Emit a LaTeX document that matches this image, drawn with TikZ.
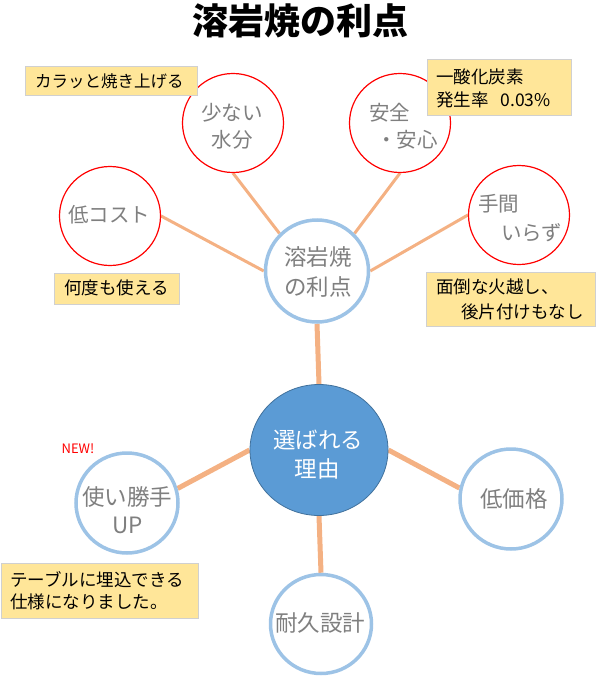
\documentclass[tikz,border=0pt]{standalone}
\usepackage{fontspec}
\setmainfont{Noto Sans CJK JP}
\usetikzlibrary{shapes.geometric}
\pgfdeclarelayer{bg}
\pgfsetlayers{bg,main}
\definecolor{cblue}{HTML}{9DC3E6}
\definecolor{cfill}{HTML}{5B9BD5}
\definecolor{cdark}{HTML}{41719C}
\definecolor{corange}{HTML}{F4B183}
\definecolor{cyellow}{HTML}{FFE699}
\definecolor{cbord}{HTML}{D0D0D0}
\definecolor{cgtext}{HTML}{7F7F7F}
\begin{document}
\begin{tikzpicture}[x=1pt,y=-1pt,
 redc/.style={ellipse,draw=red,line width=1.2pt,fill=white,minimum width=101pt,minimum height=99pt,inner sep=0pt},
 bluec/.style={ellipse,draw=cblue,line width=3.5pt,fill=white,minimum width=102pt,minimum height=100pt,inner sep=0pt},
 mainc/.style={ellipse,draw=cdark,fill=cfill,line width=0.8pt,minimum width=138pt,minimum height=131pt,inner sep=0pt},
 lk/.style={draw=corange,line width=3pt},
 lkb/.style={draw=corange,line width=5pt},
 note/.style={draw=cbord,fill=cyellow,line width=0.8pt,inner sep=0pt,anchor=north west},
 gt/.style={text=cgtext,font=\fontsize{20.5}{24}\selectfont,inner sep=0pt},
 gtb/.style={text=cgtext,font=\fontsize{22.5}{26}\selectfont,inner sep=0pt},
 nt/.style={font=\fontsize{17.5}{20}\selectfont,inner sep=0pt,anchor=west}]
\useasboundingbox (0,0) rectangle (598,677);

% title
\node[font=\fontsize{36}{42}\selectfont\bfseries,inner sep=0pt] (title) at (300,21) {溶岩焼の利点};

% circles
\node[redc] (sukunai) at (233,123) {};
\node[redc] (anzen) at (400,123) {};
\node[redc] (cost) at (110,216) {};
\node[redc] (tema) at (519,215) {};
\node[bluec,minimum width=103pt,minimum height=102pt] (cen) at (317,271) {};
\node[mainc] (riyu) at (319,450) {};
\node[bluec] (tsukai) at (127,503) {};
\node[bluec] (kakaku) at (511,499) {};
\node[bluec,minimum width=101pt,minimum height=99pt] (taikyu) at (321,624) {};

% connectors (behind circles)
\begin{pgfonlayer}{bg}
\path[lk] (sukunai.south) -- (cen.135);
\path[lk] (anzen.south) -- (cen.45);
\path[lk] (cost.east) -- (cen.west);
\path[lk] (tema.west) -- (cen.east);
\path[lkb] (cen.south) -- (riyu.north);
\path[lkb] (riyu.west) -- (tsukai.16);
\path[lkb] (riyu.east) -- (kakaku.168);
\path[lkb] (riyu.south) -- (taikyu.north);
\end{pgfonlayer}

% circle texts
\node[gt] (t1a) at (232,113) {少ない};
\node[gt] (t1b) at (232,140) {水分};
\node[gt,anchor=west] (t2a) at (369,113) {安全};
\node[gt,anchor=west] (t2b) at (376,140) {・安心};
\node[gt,anchor=west] (t3a) at (478,204) {手間};
\node[gt,anchor=west] (t3b) at (501,233) {いらず};
\node[gt] (t4) at (109,215) {低コスト};
\node[gtb] (t5a) at (318,257) {溶岩焼};
\node[gtb] (t5b) at (318,287) {の利点};
\node[gtb,text=white] (t6a) at (318,440) {選ばれる};
\node[gtb,text=white] (t6b) at (317,469) {理由};
\node[gtb] (t7a) at (127,497) {使い勝手};
\node[gtb] (t7b) at (128,525) {UP};
\node[gtb] (t8) at (514,499) {低価格};
\node[gtb] (t9) at (320,623) {耐久設計};
\node[text=red,font=\fontsize{13}{15}\selectfont,inner sep=0pt] (new) at (78,449) {NEW!};

% notes
\node[note,minimum width=172pt,minimum height=29pt] (b1) at (25,66) {};
\node[nt,font=\fontsize{16.5}{20}\selectfont] (b1t) at (35,81) {カラッと焼き上げる};
\node[note,minimum width=144pt,minimum height=56pt] (b2) at (427,59) {};
\node[nt] (b2a) at (436,77) {一酸化炭素};
\node[nt] (b2b) at (436,100) {発生率\hspace{12pt}0.03\%};
\node[note,minimum width=125pt,minimum height=31pt] (b3) at (54,273) {};
\node[nt] (b3t) at (64,288) {何度も使える};
\node[note,minimum width=169pt,minimum height=54pt] (b4) at (426,272) {};
\node[nt] (b4a) at (436,287) {面倒な火越し、};
\node[nt] (b4b) at (461,312) {後片付けもなし};
\node[note,minimum width=197pt,minimum height=55pt] (b5) at (0.5,563) {};
\node[nt] (b5a) at (10,580) {テーブルに埋込できる};
\node[nt] (b5b) at (10,602) {仕様になりました。};
\end{tikzpicture}
\end{document}
